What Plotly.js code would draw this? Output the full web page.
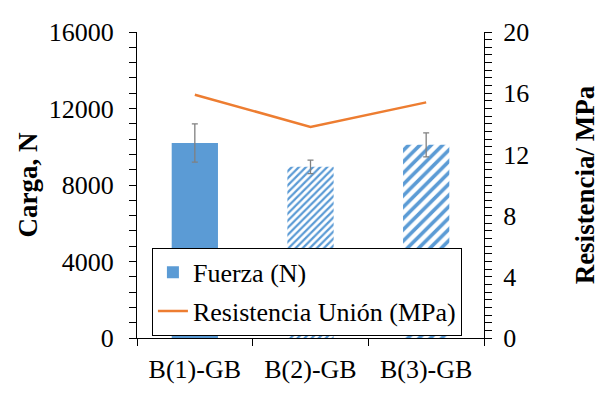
<!DOCTYPE html>
<html><head><meta charset="utf-8">
<script src="https://cdn.plot.ly/plotly-3.0.1.min.js"></script>
<style>html,body{margin:0;padding:0;background:#fff}#c{width:600px;height:394px}</style>
</head><body><div id="c"></div>
<script>
const categories = ["B(1)-GB", "B(2)-GB", "B(3)-GB"];
const fuerza = [10200, 8950, 10100];
const fuerzaErr = [1000, 350, 630];
const resistencia = [15.9, 13.8, 15.4];
const patternShapes = ["", "/", "/"];
const patternSizes = [8, 5, 8];

const F = "Liberation Serif";
const blue = "#5B9BD5", orange = "#ED7D31";

const traces = [
  {type: "bar", x: categories, y: fuerza, name: "Fuerza (N)", legendgroup: "a",
   marker: {color: blue, line: {width: 0},
     pattern: {shape: patternShapes, fgcolor: blue, bgcolor: "#ffffff", size: patternSizes, solidity: 0.45, fillmode: "replace"}},
   error_y: {type: "data", array: fuerzaErr, visible: true, color: "#808080", thickness: 1.3, width: 3}},
  {type: "scatter", mode: "lines", x: categories, y: resistencia, yaxis: "y2", name: "Resistencia Unión (MPa)", legendgroup: "b",
   line: {color: orange, width: 2.5}}
];

const layout = {
  width: 600, height: 394,
  margin: {l: 137, r: 116, t: 32, b: 56},
  paper_bgcolor: "#fff", plot_bgcolor: "#fff",
  font: {family: F, size: 24, color: "#000"},
  showlegend: true,
  bargap: 0.6,
  xaxis: {type: "category", showline: true, linecolor: "#000", linewidth: 1, ticks: "outside", tickson: "boundaries",
    ticklen: 7, tickcolor: "#000", showgrid: false, zeroline: false, tickfont: {family: F, size: 26}, ticklabelstandoff: 8},
  yaxis: {range: [0, 16000], dtick: 4000, tickformat: "d", showline: true, linecolor: "#000", linewidth: 1, ticks: "outside", ticklen: 7,
    tickcolor: "#000", showgrid: false, zeroline: false, tickfont: {family: F, size: 26}, ticklabelstandoff: 10,
    minor: {dtick: 800, ticks: "outside", ticklen: 7, tickcolor: "#000", showgrid: false},
    title: {text: "<b>Carga, N</b>", font: {family: F, size: 27}, standoff: 3}},
  yaxis2: {range: [0, 20], dtick: 4, overlaying: "y", side: "right", showline: true, linecolor: "#000", linewidth: 1,
    ticks: "outside", ticklen: 7, tickcolor: "#000", showgrid: false, zeroline: false, tickfont: {family: F, size: 26}, ticklabelstandoff: 6,
    minor: {dtick: 0.5, ticks: "outside", ticklen: 7, tickcolor: "#000", showgrid: false},
    title: {text: "<b>Resistencia/ MPa</b>", font: {family: F, size: 27}, standoff: 46}},
  legend: {x: 0.043, y: 0.295, xanchor: "left", yanchor: "top", bgcolor: "#fff", bordercolor: "#000", borderwidth: 1,
    font: {family: F, size: 26}, traceorder: "grouped", tracegroupgap: 2, itemwidth: 30}
};

Plotly.newPlot("c", traces, layout, {displayModeBar: false, staticPlot: true});
</script></body></html>
